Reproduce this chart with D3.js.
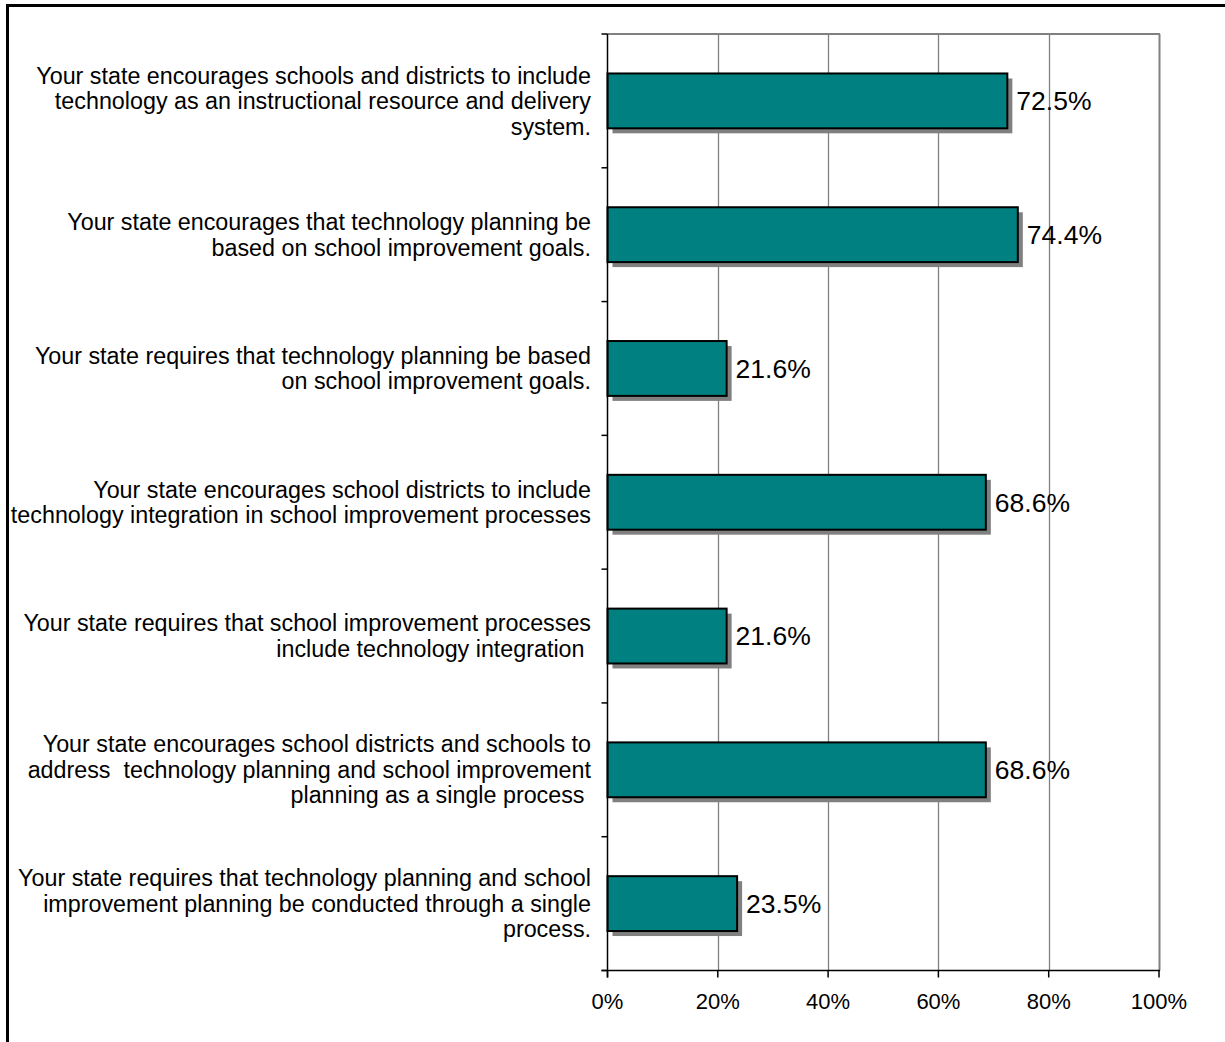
<!DOCTYPE html>
<html>
<head>
<meta charset="utf-8">
<script src="https://cdn.jsdelivr.net/npm/d3@7"></script>
<style>
  html, body { margin: 0; padding: 0; background: #fff; }
  svg { display: block; font-family: Arial, "Liberation Sans", sans-serif; }
  text { white-space: pre; }
</style>
</head>
<body>
<svg id="chart" width="1225" height="1042"></svg>
<script>
// Survey statements (each entry is the wrapped lines of one label)
const categories = [
  ["Your state encourages schools and districts to include", "technology as an instructional resource and delivery", "system."],
  ["Your state encourages that technology planning be", "based on school improvement goals."],
  ["Your state requires that technology planning be based", "on school improvement goals."],
  ["Your state encourages school districts to include", "technology integration in school improvement processes"],
  ["Your state requires that school improvement processes", "include technology integration "],
  ["Your state encourages school districts and schools to", "address  technology planning and school improvement", "planning as a single process "],
  ["Your state requires that technology planning and school", "improvement planning be conducted through a single", "process."]
];
// Percent of respondents
const values = [72.5, 74.4, 21.6, 68.6, 21.6, 68.6, 23.5];
const xTicks = [0, 20, 40, 60, 80, 100];

const svg = d3.select("#chart");
const plot = { left: 607.5, right: 1159, top: 34, bottom: 970.5 };

// Outer frame
svg.append("rect")
  .attr("x", 7.5).attr("y", 5.5)
  .attr("width", 1300).attr("height", 1100)
  .attr("fill", "none").attr("stroke", "#000").attr("stroke-width", 3);

const x = d3.scaleLinear().domain([0, 100]).range([plot.left, plot.right]);
const idx = d3.range(categories.length);
const y = d3.scaleBand().domain(idx).range([plot.top, plot.bottom]).paddingInner(0.59).paddingOuter(0.295);
const yb = d3.scaleBand().domain(idx).range([plot.top, plot.bottom]);

// Gridlines
svg.append("g").selectAll("line").data(xTicks.filter(t => t > 0)).join("line")
  .attr("x1", d => Math.round(x(d)) + 0.5).attr("x2", d => Math.round(x(d)) + 0.5)
  .attr("y1", plot.top).attr("y2", plot.bottom)
  .attr("stroke", "#808080").attr("stroke-width", d => d === 100 ? 2 : 1.3);
// Top border of plot area
svg.append("line")
  .attr("x1", plot.left).attr("x2", plot.right + 1)
  .attr("y1", plot.top).attr("y2", plot.top)
  .attr("stroke", "#808080").attr("stroke-width", 2);

// Bar shadows
const bars = svg.append("g");
bars.selectAll("rect.shadow").data(values).join("rect")
  .attr("class", "shadow")
  .attr("x", x(0) + 5)
  .attr("y", (d, i) => y(i) + 5)
  .attr("width", d => x(d) - x(0))
  .attr("height", y.bandwidth())
  .attr("fill", "#808080");
// Bars
bars.selectAll("rect.bar").data(values).join("rect")
  .attr("class", "bar")
  .attr("x", x(0))
  .attr("y", (d, i) => y(i))
  .attr("width", d => x(d) - x(0))
  .attr("height", y.bandwidth())
  .attr("fill", "#008080")
  .attr("stroke", "#000").attr("stroke-width", 2);

// Value labels
svg.append("g").selectAll("text").data(values).join("text")
  .attr("x", d => x(d) + 9)
  .attr("y", (d, i) => y(i) + y.bandwidth() / 2)
  .attr("dy", "0.35em")
  .attr("font-size", 26.5)
  .attr("fill", "#000")
  .text(d => d.toFixed(1) + "%");

// Y axis line and ticks
const yAxis = svg.append("g");
yAxis.append("line")
  .attr("x1", plot.left).attr("x2", plot.left)
  .attr("y1", plot.top).attr("y2", plot.bottom + 7)
  .attr("stroke", "#000").attr("stroke-width", 1.5);
yAxis.selectAll("line.tick").data(d3.range(categories.length + 1)).join("line")
  .attr("class", "tick")
  .attr("x1", plot.left - 6).attr("x2", plot.left)
  .attr("y1", d => d < categories.length ? yb(d) : plot.bottom)
  .attr("y2", d => d < categories.length ? yb(d) : plot.bottom)
  .attr("stroke", "#000").attr("stroke-width", 1.5);

// Category labels
const lineH = 25.5;
const lab = svg.append("g").selectAll("text").data(categories).join("text")
  .attr("text-anchor", "end")
  .attr("font-size", 23.3)
  .attr("fill", "#000")
  .attr("transform", (d, i) => `translate(591,${yb(i) + yb.bandwidth() / 2})`);
lab.selectAll("tspan").data(d => d.map((s, k) => ({ s, k, n: d.length }))).join("tspan")
  .attr("x", 0)
  .attr("y", d => (d.k - (d.n - 1) / 2) * lineH)
  .attr("dy", "0.35em")
  .text(d => d.s);

// X axis
const xAxis = svg.append("g");
xAxis.append("line")
  .attr("x1", plot.left - 6).attr("x2", plot.right + 1)
  .attr("y1", plot.bottom).attr("y2", plot.bottom)
  .attr("stroke", "#000").attr("stroke-width", 1.5);
xAxis.selectAll("line.tick").data(xTicks).join("line")
  .attr("class", "tick")
  .attr("x1", d => x(d)).attr("x2", d => x(d))
  .attr("y1", plot.bottom).attr("y2", plot.bottom + 7)
  .attr("stroke", "#000").attr("stroke-width", 1.5);
xAxis.selectAll("text").data(xTicks).join("text")
  .attr("x", d => x(d))
  .attr("y", 1009)
  .attr("text-anchor", "middle")
  .attr("font-size", 22)
  .attr("fill", "#000")
  .text(d => d + "%");
</script>
</body>
</html>
